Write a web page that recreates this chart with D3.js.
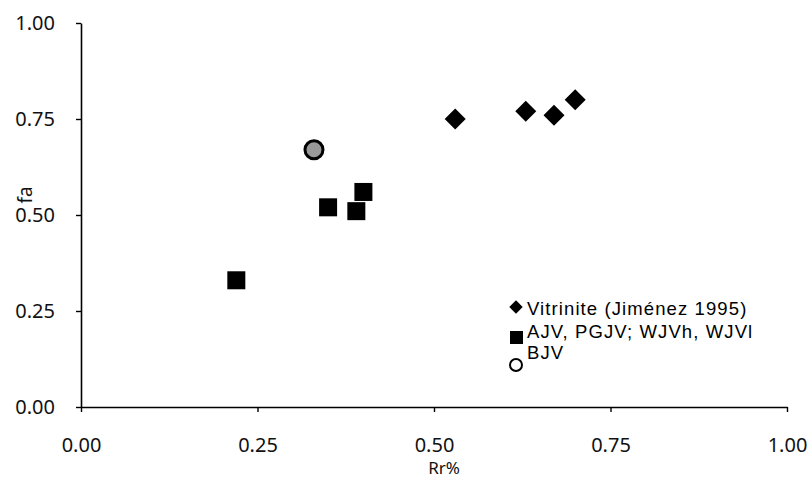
<!DOCTYPE html>
<html>
<head>
<meta charset="utf-8">
<script src="https://cdn.jsdelivr.net/npm/d3@7"></script>
<style>
  html, body { margin: 0; padding: 0; background: #fff; }
  svg { display: block; }
</style>
</head>
<body>
<svg id="chart" width="810" height="479"></svg>
<script>
// Vitrinite reference data (Jiménez 1995)
const vitriniteRr = [0.53, 0.63, 0.67, 0.70];
const vitriniteFa = [0.75, 0.77, 0.76, 0.80];
// AJV, PGJV, WJVh, WJVl samples
const sampleRr = [0.22, 0.35, 0.39, 0.40];
const sampleFa = [0.33, 0.52, 0.51, 0.56];
// BJV sample
const bjvRr = [0.33];
const bjvFa = [0.67];

const xTicks = [0, 0.25, 0.5, 0.75, 1.0];
const yTicks = [0, 0.25, 0.5, 0.75, 1.0];
const legendLabels = ["Vitrinite (Jiménez 1995)", "AJV, PGJV; WJVh, WJVl", "BJV"];

const svg = d3.select("#chart");
const x = d3.scaleLinear().domain([0, 1]).range([81, 787]);
const y = d3.scaleLinear().domain([0, 1]).range([407, 23]);

const tickFont = "'Noto Sans', 'Open Sans', sans-serif";

// x axis
const xAxis = svg.append("g").attr("transform", `translate(0,${y(0)})`)
  .call(d3.axisBottom(x).tickValues(xTicks).tickFormat(d3.format(".2f")).tickSize(5).tickSizeOuter(0));
xAxis.select(".domain").attr("stroke", "#000").attr("stroke-width", 1.6);
xAxis.selectAll(".tick line").attr("stroke", "#000").attr("stroke-width", 1.4);
xAxis.selectAll("text").attr("font-family", tickFont).attr("font-size", 20).attr("fill", "#111")
  .attr("y", 45).attr("dy", null);

// y axis
const yAxis = svg.append("g").attr("transform", `translate(${x(0)},0)`)
  .call(d3.axisLeft(y).tickValues(yTicks).tickFormat(d3.format(".2f")).tickSize(5).tickSizeOuter(0));
yAxis.select(".domain").attr("stroke", "#000").attr("stroke-width", 1.6);
yAxis.selectAll(".tick line").attr("stroke", "#000").attr("stroke-width", 1.4);
yAxis.selectAll("text").attr("font-family", tickFont).attr("font-size", 20).attr("fill", "#111").attr("x", -26);

// axis titles
svg.append("text").attr("x", 444).attr("y", 474).attr("text-anchor", "middle")
  .attr("font-family", tickFont).attr("font-size", 17).attr("fill", "#111").text("Rr%");
svg.append("text").attr("transform", "translate(32,195) rotate(-90)").attr("text-anchor", "middle")
  .attr("font-family", tickFont).attr("font-size", 19).attr("fill", "#111").text("fa");

// markers
const diamond = d3.symbol().type(d3.symbolSquare).size(220);
svg.append("g").selectAll("path").data(vitriniteRr).join("path")
  .attr("d", diamond)
  .attr("transform", (d, i) => `translate(${x(d)},${y(vitriniteFa[i])}) rotate(45)`)
  .attr("fill", "#000");

svg.append("g").selectAll("rect").data(sampleRr).join("rect")
  .attr("x", d => x(d) - 9).attr("y", (d, i) => y(sampleFa[i]) - 9)
  .attr("width", 18).attr("height", 18).attr("fill", "#000");

svg.append("g").selectAll("circle").data(bjvRr).join("circle")
  .attr("cx", d => x(d)).attr("cy", (d, i) => y(bjvFa[i])).attr("r", 9)
  .attr("fill", "#999").attr("stroke", "#000").attr("stroke-width", 3);

// legend
const legFont = "'Liberation Sans', Arial, sans-serif";
const leg = svg.append("g");
leg.append("path").attr("d", d3.symbol().type(d3.symbolSquare).size(90))
  .attr("transform", "translate(516,307) rotate(45)").attr("fill", "#000");
leg.append("rect").attr("x", 510).attr("y", 331).attr("width", 13).attr("height", 13).attr("fill", "#000");
leg.append("circle").attr("cx", 516).attr("cy", 365).attr("r", 6)
  .attr("fill", "#fff").attr("stroke", "#000").attr("stroke-width", 2);
const legY = [315, 338, 359];
leg.selectAll("text").data(legendLabels).join("text")
  .attr("x", 527).attr("y", (d, i) => legY[i])
  .attr("font-family", legFont).attr("font-size", 18.5).attr("fill", "#000")
  .attr("letter-spacing", 1.1)
  .text(d => d);
</script>
</body>
</html>
